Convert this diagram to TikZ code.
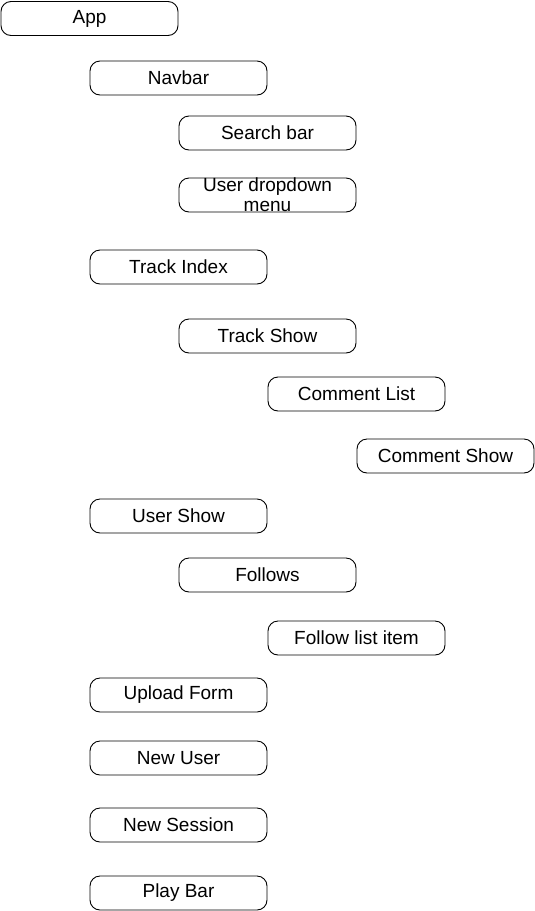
\documentclass[tikz,border=0pt]{standalone}
\usepackage{fontspec}
\setmainfont{Liberation Sans}
\tikzset{
  comp/.style={draw, rounded corners=10pt, line width=0.9pt, minimum width=177pt,
    minimum height=34pt, inner sep=0pt, align=center,
    font=\fontsize{19}{20}\selectfont}
}

\begin{document}
\begin{tikzpicture}[x=1pt, y=-1pt]
%      \draw [help lines] (0,0) grid[step=50pt] (535,911);
      \useasboundingbox (0,0) rectangle (535,911);
      \node [comp] (app) at (89.5,18.5) {App};
      \node [comp] (navbar) at (178.5,78) {Navbar};
      \node [comp] (search) at (267.5,133) {Search bar};
      \node [comp] (dropdown) at (267.5,195) {User dropdown\\menu};
      \node [comp] (trackindex) at (178.5,267) {Track Index};
      \node [comp] (trackshow) at (267.5,336) {Track Show};
      \node [comp] (commentlist) at (356.5,394) {Comment List};
      \node [comp] (commentshow) at (445.5,456) {Comment Show};
      \node [comp] (usershow) at (178.5,516) {User Show};
      \node [comp] (follows) at (267.5,575) {Follows};
      \node [comp] (followitem) at (356.5,638) {Follow list item};
      \node [comp] (upload) at (178.5,695) {Upload Form};
      \node [comp] (newuser) at (178.5,758) {New User};
      \node [comp] (newsession) at (178.5,825) {New Session};
      \node [comp] (playbar) at (178.5,893) {Play Bar};
\end{tikzpicture}
\end{document}
